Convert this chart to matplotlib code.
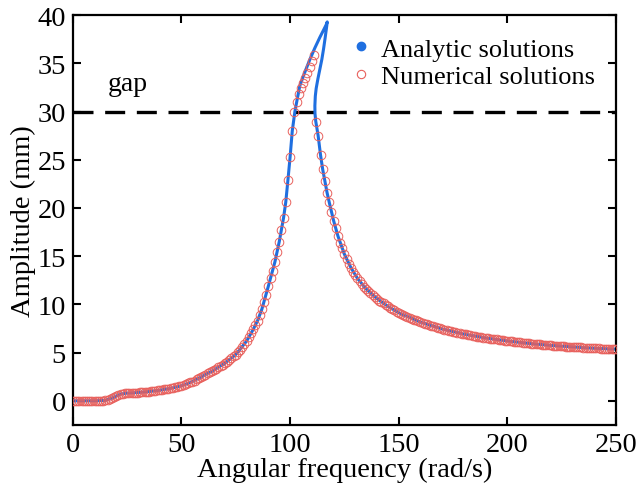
import numpy as np
import matplotlib
matplotlib.use('Agg')
import matplotlib.pyplot as plt

plt.rcParams['font.family'] = ['Liberation Serif', 'DejaVu Serif']

# Analytic solution (traced along the path incl. the fold back near the peak)
x_ana = [0, 5, 10, 15, 17, 20, 22, 25, 30, 35, 40, 45, 50, 55, 60, 65, 70, 75, 80,
         83, 85, 87, 90, 93, 95, 97, 98, 99, 100, 101, 102.2, 103.2, 104.5, 106.8,
         109.1, 111.4, 113.7, 115.5, 116.6, 117.1,
         116.7, 116.1, 115.4, 114.6, 113.7, 112.8, 112.0, 111.6, 111.4, 111.45, 111.8,
         112.9, 114, 115, 116, 117, 118, 120, 122, 125, 128, 131, 135, 140, 145, 150,
         160, 170, 180, 190, 200, 210, 220, 230, 240, 250]
y_ana = [0.0, 0.0, 0.0, 0.05, 0.2, 0.5, 0.7, 0.8, 0.86, 0.96, 1.1, 1.3, 1.55, 2.0, 2.6,
         3.2, 3.9, 4.8, 6.2, 7.4, 8.3, 9.5, 11.9, 14.4, 16.5, 19.0, 20.6, 22.9, 25.3,
         28.0, 30.0, 31.2, 32.7, 34.1, 35.4, 36.6, 37.7, 38.5, 39.0, 39.3,
         38.6, 37.6, 36.5, 35.4, 34.4, 33.4, 32.4, 31.6, 30.6, 29.8, 29.0,
         27.5, 25.5, 24.0, 22.8, 21.6, 20.6, 18.7, 17.1, 15.2, 13.8, 12.7, 11.6, 10.6,
         9.8, 9.14, 8.16, 7.45, 6.92, 6.52, 6.21, 5.95, 5.75, 5.59, 5.45, 5.36]

# Numerical solution (frequency sweep-up, 1 rad/s step, jump down near 112 rad/s)
x_num_up = np.arange(0, 112)
y_num_up = [0.0, 0.0, 0.0, 0.0, 0.0, 0.0, 0.0, 0.0, 0.0, 0.0,
            0.0, 0.0, 0.0, 0.0, 0.0, 0.05, 0.1, 0.2, 0.3, 0.4,
            0.5, 0.6, 0.7, 0.75, 0.78, 0.8, 0.8, 0.82, 0.83, 0.85,
            0.86, 0.88, 0.9, 0.92, 0.94, 0.96, 0.99, 1.02, 1.05, 1.08,
            1.1, 1.14, 1.18, 1.22, 1.26, 1.3, 1.35, 1.4, 1.45, 1.5,
            1.55, 1.63, 1.71, 1.8, 1.9, 2.0, 2.1, 2.22, 2.34, 2.47,
            2.6, 2.72, 2.84, 2.96, 3.08, 3.2, 3.33, 3.46, 3.6, 3.75,
            3.9, 4.05, 4.2, 4.4, 4.6, 4.8, 5.05, 5.3, 5.6, 5.9,
            6.2, 6.6, 7.0, 7.4, 7.85, 8.3, 8.9, 9.5, 10.2, 11.0,
            11.9, 12.7, 13.5, 14.4, 15.4, 16.5, 17.7, 19.0, 20.6, 22.9,
            25.3, 28.0, 30.0, 31.0, 31.8, 32.4, 33.0, 33.5, 34.0, 34.6,
            35.2, 35.9]
x_num_down = np.arange(112, 251)
y_num_down = [28.9, 27.5, 25.5, 24.0, 22.8, 21.6, 20.6, 19.6,
              18.7, 17.9, 17.1, 16.4, 15.8, 15.2, 14.7, 14.2, 13.8, 13.4,
              13.0, 12.7, 12.4, 12.1, 11.85, 11.6, 11.4, 11.2, 11.0, 10.8,
              10.6, 10.4, 10.25, 10.1, 9.95, 9.8, 9.65, 9.5, 9.38, 9.26,
              9.14, 9.03, 8.92, 8.81, 8.71, 8.61, 8.52, 8.42, 8.33, 8.24,
              8.16, 8.08, 8.00, 7.93, 7.85, 7.78, 7.71, 7.64, 7.58, 7.51,
              7.45, 7.39, 7.33, 7.28, 7.22, 7.17, 7.12, 7.07, 7.02, 6.97,
              6.92, 6.88, 6.83, 6.79, 6.75, 6.71, 6.67, 6.63, 6.59, 6.56,
              6.52, 6.49, 6.45, 6.42, 6.39, 6.36, 6.33, 6.30, 6.27, 6.24,
              6.21, 6.18, 6.16, 6.13, 6.10, 6.08, 6.05, 6.03, 6.00, 5.98,
              5.95, 5.93, 5.91, 5.89, 5.87, 5.85, 5.83, 5.81, 5.79, 5.77,
              5.75, 5.73, 5.72, 5.70, 5.68, 5.67, 5.65, 5.63, 5.62, 5.60,
              5.59, 5.57, 5.56, 5.54, 5.53, 5.52, 5.50, 5.49, 5.48, 5.46,
              5.45, 5.44, 5.43, 5.42, 5.41, 5.40, 5.39, 5.38, 5.37, 5.37,
              5.36]
x_num = np.concatenate([x_num_up, x_num_down])
y_num = np.concatenate([y_num_up, y_num_down])

gap = 30

blue = '#1f6fe0'
red = '#e8605c'

fig = plt.figure(figsize=(6.39, 4.89), dpi=100)
ax = fig.add_axes([0.114, 0.129, 0.850, 0.838])

ax.plot(x_ana, y_ana, color=blue, lw=2.2, zorder=2)
ax.plot(x_num, y_num, ls='none', marker='o', ms=6.2, mfc='none', mec=red, mew=0.7, zorder=3)
ax.axhline(gap, color='black', lw=2.4, dashes=(6, 3.5), zorder=1)
ax.text(16, 32.2, 'gap', fontsize=20)

# legend handles: filled dot and open circle
h1, = ax.plot([], [], ls='none', marker='o', ms=6, color=blue)
h2, = ax.plot([], [], ls='none', marker='o', ms=6, mfc='none', mec=red, mew=0.8)
ax.legend([h1, h2], ['Analytic solutions', 'Numerical solutions'], loc='upper right',
          bbox_to_anchor=(0.99, 0.985), frameon=False, fontsize=19,
          handlelength=0.6, handletextpad=0.45, labelspacing=0.15, borderaxespad=0.2)

ax.set_xlim(0, 250)
ax.set_ylim(-2.5, 40)
ax.set_xticks(np.arange(0, 251, 50))
ax.set_yticks(np.arange(0, 41, 5))
ax.tick_params(direction='in', length=6, width=1.5, labelsize=20.5, top=True, right=True, pad=5)
for s in ax.spines.values():
    s.set_linewidth(1.6)
ax.set_xlabel('Angular frequency (rad/s)', fontsize=20.5, labelpad=0)
ax.set_ylabel('Amplitude (mm)', fontsize=20.5, labelpad=1)

fig.savefig('out.png', dpi=100)
